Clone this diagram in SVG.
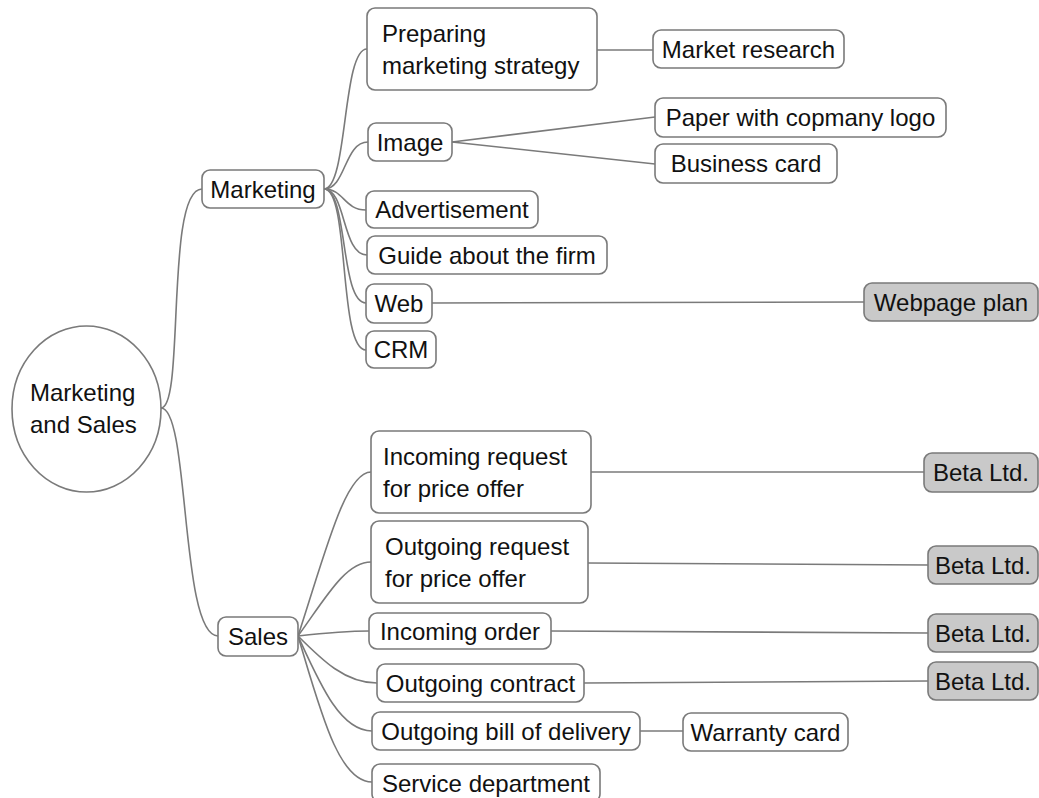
<svg xmlns="http://www.w3.org/2000/svg" width="1039" height="798" viewBox="0 0 1039 798">
<style>
.n{fill:#ffffff;stroke:#7a7a7a;stroke-width:1.6}
.g{fill:#c9c9c9;stroke:#7a7a7a;stroke-width:1.6}
.t{font-family:"Liberation Sans",Arial,sans-serif;font-size:24px;fill:#111111}
.c{text-anchor:middle}
#connectors path{fill:none;stroke:#7a7a7a;stroke-width:1.6}
</style>
<rect width="1039" height="798" fill="#ffffff"/>
<g id="connectors">
<path d="M161,408 C185,408 165,189 202,189"/>
<path d="M161,408 C190,408 180,636 218,636"/>
<path d="M324,189 C348,189 342,49 367,49"/>
<path d="M324,189 C346,189 344,142 368,142"/>
<path d="M324,189 C344,189 344,210 366,210"/>
<path d="M324,189 C346,189 342,255 367,255"/>
<path d="M324,189 C348,189 340,303 366,303"/>
<path d="M324,189 C350,189 338,350 366,350"/>
<path d="M597,50 L653,50"/>
<path d="M452,142 L655,117"/>
<path d="M452,142 L655,164"/>
<path d="M432,303 L864,302"/>
<path d="M298,636 C325,554 345,472 371,472"/>
<path d="M298,636 C325,599 345,562 371,562"/>
<path d="M298,636 C325,633 345,631 369,631"/>
<path d="M298,636 C322,660 345,683 377,683"/>
<path d="M298,636 C320,684 340,731 372,731"/>
<path d="M298,636 C320,709 338,782 372,782"/>
<path d="M591,472 L924,472"/>
<path d="M588,563 L928,565"/>
<path d="M551,631 L928,633"/>
<path d="M584,683 L928,681"/>
<path d="M640,731 L683,731"/>
</g>
<g id="root">
<ellipse class="n" cx="86.5" cy="409" rx="74.5" ry="83"/>
<text class="t" x="30" y="401">Marketing</text>
<text class="t" x="30" y="433">and Sales</text>
</g>
<g id="marketing"><rect class="n" x="202" y="170" width="122" height="38" rx="8"/><text class="t c" x="263" y="198">Marketing</text></g>
<g id="sales"><rect class="n" x="218" y="617" width="80" height="39" rx="8"/><text class="t c" x="258" y="645">Sales</text></g>
<g id="preparing"><rect class="n" x="367" y="8" width="230" height="82" rx="8"/><text class="t" x="382" y="42">Preparing</text><text class="t" x="382" y="74">marketing strategy</text></g>
<g id="image"><rect class="n" x="368" y="123" width="84" height="38" rx="8"/><text class="t c" x="410" y="151">Image</text></g>
<g id="advertisement"><rect class="n" x="366" y="191" width="172" height="37" rx="8"/><text class="t c" x="452" y="218">Advertisement</text></g>
<g id="guide"><rect class="n" x="367" y="236" width="240" height="38" rx="8"/><text class="t c" x="487" y="264">Guide about the firm</text></g>
<g id="web"><rect class="n" x="366" y="284" width="66" height="39" rx="8"/><text class="t c" x="399" y="312">Web</text></g>
<g id="crm"><rect class="n" x="366" y="331" width="70" height="37" rx="8"/><text class="t c" x="401" y="358">CRM</text></g>
<g id="market-research"><rect class="n" x="653" y="30" width="191" height="38" rx="8"/><text class="t c" x="748.5" y="58">Market research</text></g>
<g id="paper"><rect class="n" x="655" y="98" width="291" height="39" rx="8"/><text class="t c" x="800.5" y="126">Paper with copmany logo</text></g>
<g id="business-card"><rect class="n" x="655" y="144" width="182" height="39" rx="8"/><text class="t c" x="746" y="172">Business card</text></g>
<g id="webpage-plan"><rect class="g" x="864" y="283" width="174" height="38" rx="8"/><text class="t c" x="951" y="311">Webpage plan</text></g>
<g id="incoming-request"><rect class="n" x="371" y="431" width="220" height="82" rx="8"/><text class="t" x="383" y="465">Incoming request</text><text class="t" x="383" y="497">for price offer</text></g>
<g id="outgoing-request"><rect class="n" x="371" y="521" width="217" height="82" rx="8"/><text class="t" x="385" y="555">Outgoing request</text><text class="t" x="385" y="587">for price offer</text></g>
<g id="incoming-order"><rect class="n" x="369" y="613" width="182" height="36" rx="8"/><text class="t c" x="460" y="640">Incoming order</text></g>
<g id="outgoing-contract"><rect class="n" x="377" y="664" width="207" height="38" rx="8"/><text class="t c" x="480.5" y="692">Outgoing contract</text></g>
<g id="bill"><rect class="n" x="372" y="712" width="268" height="38" rx="8"/><text class="t c" x="506" y="740">Outgoing bill of delivery</text></g>
<g id="service"><rect class="n" x="372" y="764" width="228" height="38" rx="8"/><text class="t c" x="486" y="792">Service department</text></g>
<g id="warranty"><rect class="n" x="683" y="713" width="165" height="38" rx="8"/><text class="t c" x="765.5" y="741">Warranty card</text></g>
<g id="beta1"><rect class="g" x="924" y="453" width="114" height="39" rx="8"/><text class="t c" x="981" y="481">Beta Ltd.</text></g>
<g id="beta2"><rect class="g" x="928" y="546" width="110" height="38" rx="8"/><text class="t c" x="983" y="574">Beta Ltd.</text></g>
<g id="beta3"><rect class="g" x="928" y="614" width="110" height="38" rx="8"/><text class="t c" x="983" y="642">Beta Ltd.</text></g>
<g id="beta4"><rect class="g" x="928" y="662" width="110" height="38" rx="8"/><text class="t c" x="983" y="690">Beta Ltd.</text></g>
</svg>
